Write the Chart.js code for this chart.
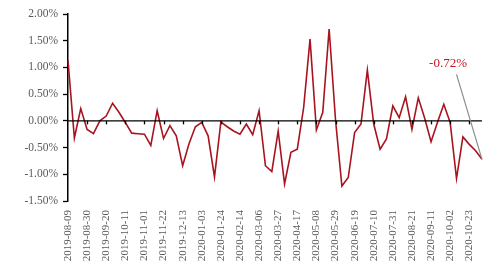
<!DOCTYPE html>
<html>
<head>
<meta charset="utf-8">
<script src="https://cdn.jsdelivr.net/npm/chart.js@4/dist/chart.umd.min.js"></script>
<style>
  html, body { margin: 0; padding: 0; background: #fff; }
  #wrap { width: 499px; height: 278px; position: relative; }
</style>
</head>
<body>
<div id="wrap"><canvas id="c"></canvas></div>
<script>
const dates = [
  '2019-08-09','2019-08-16','2019-08-23','2019-08-30','2019-09-06','2019-09-13','2019-09-20','2019-09-27',
  '2019-10-04','2019-10-11','2019-10-18','2019-10-25','2019-11-01','2019-11-08','2019-11-15','2019-11-22',
  '2019-11-29','2019-12-06','2019-12-13','2019-12-20','2019-12-27','2020-01-03','2020-01-10','2020-01-17',
  '2020-01-24','2020-01-31','2020-02-07','2020-02-14','2020-02-21','2020-02-28','2020-03-06','2020-03-13',
  '2020-03-20','2020-03-27','2020-04-03','2020-04-10','2020-04-17','2020-04-24','2020-05-01','2020-05-08',
  '2020-05-15','2020-05-22','2020-05-29','2020-06-05','2020-06-12','2020-06-19','2020-06-26','2020-07-03',
  '2020-07-10','2020-07-17','2020-07-24','2020-07-31','2020-08-07','2020-08-14','2020-08-21','2020-08-28',
  '2020-09-04','2020-09-11','2020-09-18','2020-09-25','2020-10-02','2020-10-09','2020-10-16','2020-10-23',
  '2020-10-30','2020-11-06'
];
const weeklyChange = [
  1.13, -0.32, 0.23, -0.16, -0.24, 0.00, 0.09, 0.33, 0.16, -0.03,
  -0.23, -0.24, -0.25, -0.46, 0.19, -0.33, -0.09, -0.28, -0.84, -0.43,
  -0.11, -0.03, -0.28, -1.05, -0.02, -0.11, -0.19, -0.25, -0.06, -0.26,
  0.19, -0.84, -0.95, -0.19, -1.18, -0.59, -0.53, 0.25, 1.53, -0.17,
  0.16, 1.72, 0.02, -1.22, -1.06, -0.22, -0.06, 0.95, -0.06, -0.53,
  -0.34, 0.28, 0.06, 0.45, -0.16, 0.43, 0.05, -0.39, -0.03, 0.31,
  -0.03, -1.08, -0.30, -0.44, -0.56, -0.72
];
const yTicks = [-1.5, -1.0, -0.5, 0.0, 0.5, 1.0, 1.5, 2.0];
const labelEvery = 3;
const annotationText = '-0.72%';

const FONT = "'Liberation Serif', 'Times New Roman', serif";
const LINE_COLOR = '#A8131F';
const TEXT_COLOR = '#595959';

const overlay = {
  id: 'overlay',
  afterDatasetsDraw(chart) {
    const { ctx, scales: { x, y } } = chart;
    const y0 = y.getPixelForValue(0);
    ctx.save();
    ctx.strokeStyle = '#000';
    ctx.lineWidth = 1.3;
    ctx.beginPath();
    ctx.moveTo(chart.chartArea.left, y0);
    ctx.lineTo(chart.chartArea.right, y0);
    ctx.stroke();
    dates.forEach((d, i) => {
      if (i % labelEvery === 0 && i > 0) {
        const px = Math.round(x.getPixelForValue(i)) + 0.5;
        ctx.beginPath();
        ctx.moveTo(px, y0);
        ctx.lineTo(px, y0 + 3.5);
        ctx.stroke();
      }
    });
    const last = weeklyChange.length - 1;
    const lx = x.getPixelForValue(last);
    const ly = y.getPixelForValue(weeklyChange[last]);
    const tx = lx - 34, ty = ly - 96;
    ctx.strokeStyle = '#8C8C8C';
    ctx.lineWidth = 1.2;
    ctx.beginPath();
    ctx.moveTo(lx - 25.5, ty + 11);
    ctx.lineTo(lx, ly);
    ctx.stroke();
    ctx.fillStyle = '#C0171F';
    ctx.font = '13px ' + FONT;
    ctx.textAlign = 'center';
    ctx.textBaseline = 'middle';
    ctx.fillText(annotationText, tx, ty);
    ctx.restore();
  }
};

new Chart(document.getElementById('c'), {
  type: 'line',
  data: {
    labels: dates,
    datasets: [{
      data: weeklyChange,
      borderColor: LINE_COLOR,
      borderWidth: 1.6,
      pointRadius: 0,
      tension: 0,
      fill: false
    }]
  },
  options: {
    responsive: true,
    maintainAspectRatio: false,
    animation: false,
    layout: { padding: { top: 14, right: 17, left: 0, bottom: 0 } },
    plugins: { legend: { display: false }, tooltip: { enabled: false } },
    scales: {
      x: {
        type: 'category',
        offset: false,
        grid: { display: false },
        border: { display: false },
        ticks: {
          autoSkip: false,
          maxRotation: 90,
          minRotation: 90,
          padding: 1,
          color: TEXT_COLOR,
          font: { family: FONT, size: 11 },
          callback: (v, i) => (i % labelEvery === 0 ? dates[i] : null)
        },
        afterFit: (s) => { s.height = 77; }
      },
      y: {
        min: yTicks[0],
        max: yTicks[yTicks.length - 1],
        afterBuildTicks: (s) => { s.ticks = yTicks.map(v => ({ value: v })); },
        grid: {
          drawOnChartArea: false,
          drawTicks: true,
          tickLength: 5,
          tickColor: '#000',
          tickWidth: 1.3
        },
        border: { display: true, color: '#000', width: 1.5 },
        ticks: {
          padding: 5,
          color: TEXT_COLOR,
          font: { family: FONT, size: 11.5 },
          callback: (v) => Number(v).toFixed(2) + '%'
        },
        afterFit: (s) => { s.width = 68; }
      }
    }
  },
  plugins: [overlay]
});
</script>
</body>
</html>
